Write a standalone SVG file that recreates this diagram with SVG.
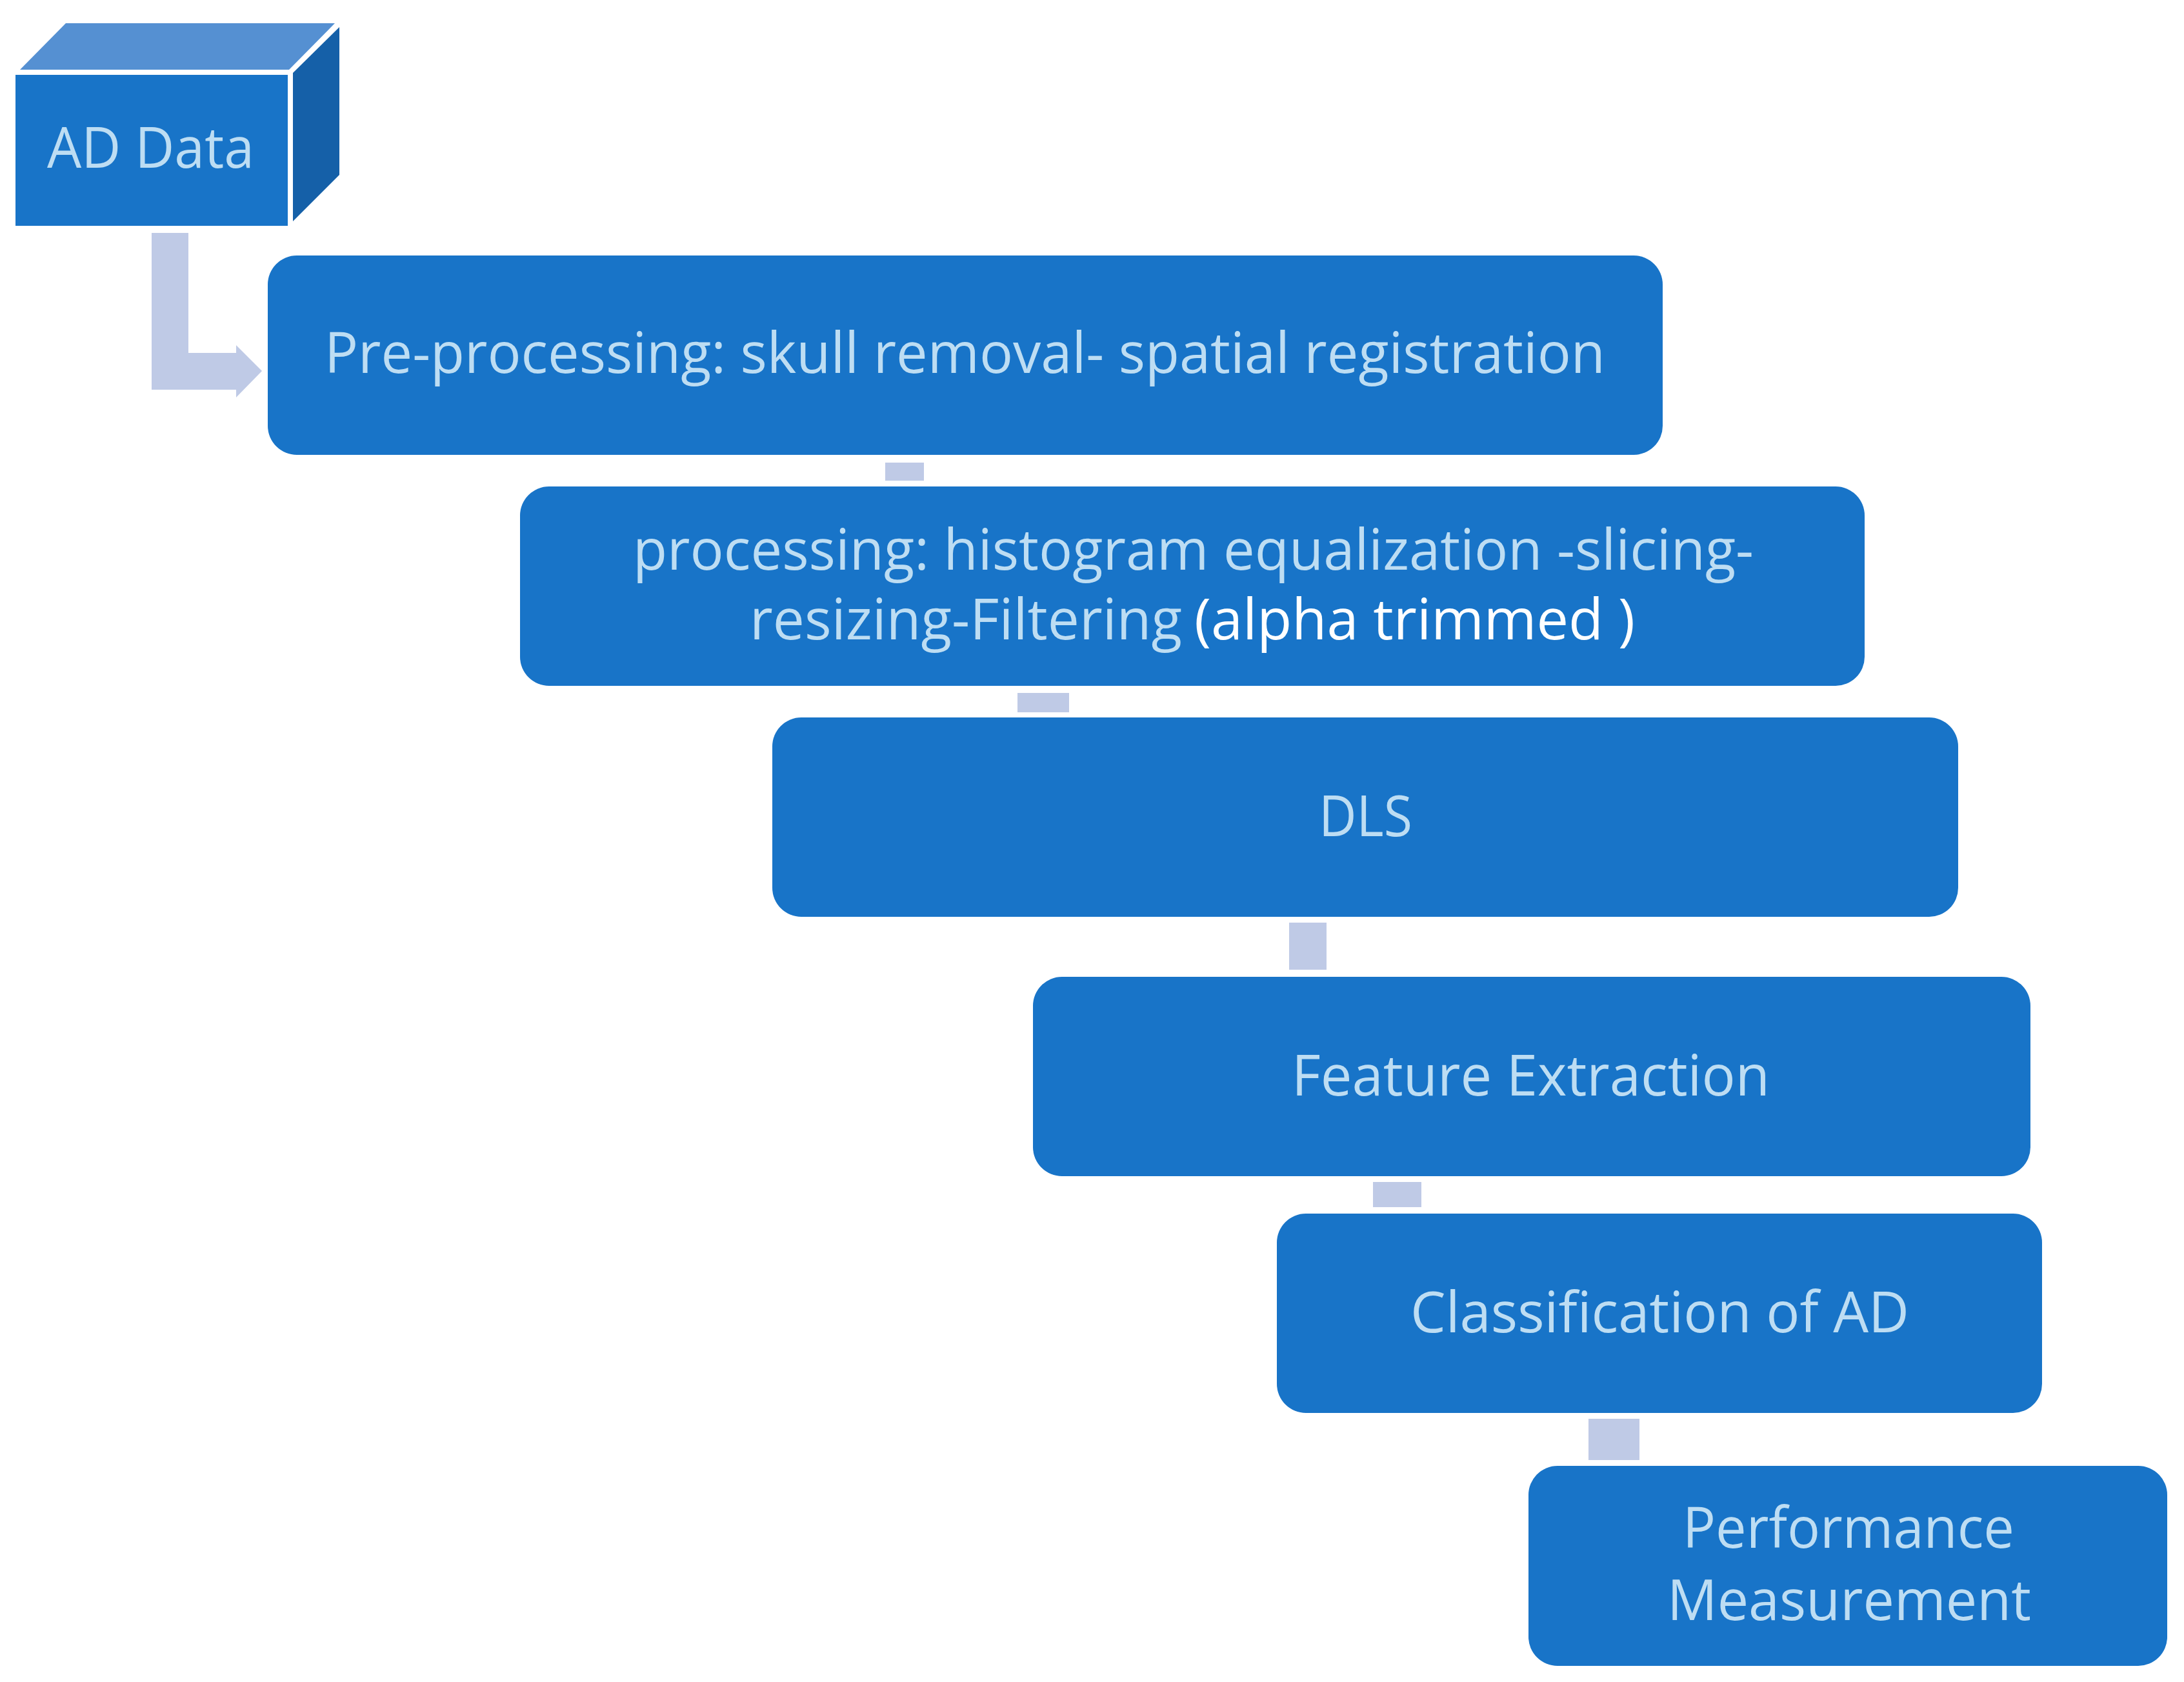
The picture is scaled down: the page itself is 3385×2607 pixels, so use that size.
<svg xmlns="http://www.w3.org/2000/svg" width="3385" height="2607" viewBox="0 0 3385 2607">
<style>
.box{fill:#1874C8}
.t{font-family:"Open Sans","Noto Sans",sans-serif;font-size:88px;fill:#BDDDF3}
.w{fill:#FFFFFF}
.c{fill:#BFCAE6}
</style>
<rect width="3385" height="2607" fill="#fff"/>
<g id="ad-data">
<polygon points="31,108 102,36 519,36 448,108" fill="#5590D2"/>
<polygon points="454,113 526,42 526,271 454,343" fill="#1560A8"/>
<rect x="24" y="116" width="422" height="234" class="box"/>
<text x="73" y="260" class="t" textLength="321" lengthAdjust="spacingAndGlyphs">AD Data</text>
</g>
<g id="connectors">
<path d="M235,361 H292 V547 H366 V535 L406,575 L366,616 V604 H235 Z" class="c"/>
<rect x="1372" y="717" width="60" height="28" class="c"/>
<rect x="1577" y="1074" width="80" height="30" class="c"/>
<rect x="1998" y="1430" width="58" height="73" class="c"/>
<rect x="2128" y="1832" width="75" height="39" class="c"/>
<rect x="2462" y="2199" width="79" height="64" class="c"/>
</g>
<g id="pre-processing">
<rect x="415" y="396" width="2162" height="309" rx="45" class="box"/>
<text x="503" y="578" class="t" textLength="1985" lengthAdjust="spacingAndGlyphs">Pre-processing: skull removal- spatial registration</text>
</g>
<g id="processing">
<rect x="806" y="754" width="2084" height="309" rx="45" class="box"/>
<text x="981" y="883" class="t" textLength="1737" lengthAdjust="spacingAndGlyphs">processing: histogram equalization -slicing-</text>
<text y="991" class="t"><tspan x="1162" textLength="670" lengthAdjust="spacingAndGlyphs">resizing-Filtering</tspan><tspan x="1851" class="w" textLength="683" lengthAdjust="spacingAndGlyphs">(alpha trimmed )</tspan></text>
</g>
<g id="dls">
<rect x="1197" y="1112" width="1838" height="309" rx="45" class="box"/>
<text x="2044" y="1296" class="t" textLength="145" lengthAdjust="spacingAndGlyphs">DLS</text>
</g>
<g id="feature-extraction">
<rect x="1601" y="1514" width="1546" height="309" rx="45" class="box"/>
<text x="2002" y="1698" class="t" textLength="741" lengthAdjust="spacingAndGlyphs">Feature Extraction</text>
</g>
<g id="classification">
<rect x="1979" y="1881" width="1186" height="309" rx="45" class="box"/>
<text x="2186" y="2065" class="t" textLength="773" lengthAdjust="spacingAndGlyphs">Classification of AD</text>
</g>
<g id="performance">
<rect x="2369" y="2272" width="990" height="310" rx="45" class="box"/>
<text x="2608" y="2399" class="t" textLength="514" lengthAdjust="spacingAndGlyphs">Performance</text>
<text x="2584" y="2511" class="t" textLength="564" lengthAdjust="spacingAndGlyphs">Measurement</text>
</g>
</svg>
